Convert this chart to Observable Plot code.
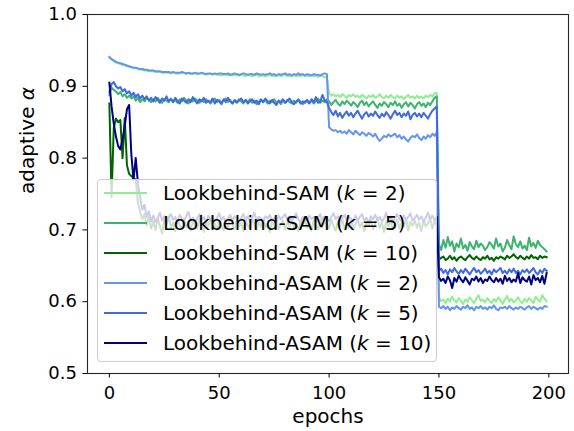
<!DOCTYPE html>
<html><head><meta charset="utf-8">
<script src="https://cdn.jsdelivr.net/npm/d3@7"></script>
<script src="https://cdn.jsdelivr.net/npm/@observablehq/plot@0.6"></script>
<style>
body{margin:0;background:#fff}
#wrap{position:relative;width:574px;height:431px;font-family:"DejaVu Sans",sans-serif}
#legend{position:absolute;left:97px;top:179px;width:338px;height:181px;border:1px solid #cccccc;border-radius:4px;background:rgba(255,255,255,0.8)}
#rows{margin-top:-2px}
.row{height:30px;display:flex;align-items:center;font-size:20px;color:#000;white-space:nowrap}
.row svg{margin-left:6px;margin-right:16px;flex:none}
</style>
</head><body>
<div id="wrap"><div id="chart"></div><div id="legend"><div id="rows"></div></div></div>
<script>
const seriesNames = ["Lookbehind-SAM|2","Lookbehind-SAM|5","Lookbehind-SAM|10","Lookbehind-ASAM|2","Lookbehind-ASAM|5","Lookbehind-ASAM|10"];
const seriesColors = ["#90EE90","#3CB371","#006400","#6495ED","#4169E1","#000080"];
const xTicks = [0,50,100,150,200];
const yTicks = [0.5,0.6,0.7,0.8,0.9,1.0];

const samK2 = [
0.940,0.937,0.935,0.933,0.932,0.931,0.930,0.929,0.928,0.927,
0.926,0.925,0.925,0.924,0.923,0.923,0.922,0.922,0.921,0.921,
0.921,0.920,0.920,0.920,0.919,0.919,0.919,0.919,0.918,0.919,
0.918,0.918,0.918,0.919,0.918,0.917,0.918,0.917,0.917,0.918,
0.917,0.917,0.918,0.917,0.916,0.917,0.917,0.916,0.917,0.916,
0.916,0.915,0.916,0.916,0.915,0.916,0.915,0.916,0.915,0.915,
0.916,0.915,0.914,0.916,0.915,0.914,0.915,0.916,0.914,0.915,
0.915,0.914,0.915,0.916,0.914,0.915,0.914,0.916,0.914,0.915,
0.916,0.914,0.915,0.914,0.916,0.914,0.915,0.914,0.916,0.914,
0.915,0.914,0.916,0.914,0.915,0.913,0.915,0.914,0.913,0.912,
0.890,0.887,0.889,0.886,0.888,0.885,0.889,0.887,0.884,0.888,
0.886,0.889,0.885,0.887,0.884,0.888,0.886,0.883,0.887,0.885,
0.888,0.884,0.886,0.889,0.885,0.883,0.887,0.884,0.888,0.885,
0.883,0.887,0.884,0.886,0.882,0.885,0.888,0.884,0.886,0.883,
0.887,0.884,0.886,0.883,0.887,0.885,0.888,0.886,0.890,0.891,
0.606,0.601,0.603,0.598,0.604,0.600,0.607,0.602,0.599,0.605,
0.601,0.597,0.603,0.600,0.606,0.602,0.598,0.604,0.609,0.601,
0.603,0.599,0.605,0.601,0.598,0.604,0.600,0.606,0.602,0.597,
0.603,0.608,0.600,0.604,0.599,0.602,0.606,0.601,0.598,0.604,
0.600,0.605,0.602,0.598,0.607,0.603,0.600,0.609,0.604,0.601];

const samK5 = [
0.888,0.898,0.895,0.893,0.889,0.892,0.886,0.889,0.884,0.887,
0.883,0.886,0.880,0.884,0.878,0.882,0.879,0.884,0.881,0.878,
0.882,0.879,0.884,0.880,0.877,0.882,0.880,0.878,0.883,0.879,
0.881,0.877,0.882,0.879,0.884,0.880,0.876,0.881,0.879,0.883,
0.880,0.877,0.881,0.878,0.882,0.879,0.876,0.880,0.883,0.878,
0.881,0.877,0.880,0.883,0.878,0.881,0.876,0.880,0.878,0.882,
0.879,0.876,0.881,0.878,0.882,0.877,0.880,0.875,0.879,0.882,
0.878,0.881,0.876,0.880,0.878,0.882,0.877,0.879,0.875,0.880,
0.877,0.881,0.878,0.876,0.880,0.877,0.882,0.878,0.875,0.879,
0.881,0.877,0.880,0.876,0.879,0.883,0.877,0.880,0.878,0.882,
0.879,0.874,0.878,0.881,0.876,0.873,0.879,0.875,0.880,0.877,
0.873,0.878,0.875,0.871,0.877,0.880,0.874,0.878,0.872,0.876,
0.879,0.874,0.870,0.876,0.873,0.878,0.875,0.871,0.877,0.874,
0.879,0.873,0.876,0.870,0.875,0.878,0.872,0.877,0.874,0.869,
0.875,0.878,0.873,0.876,0.871,0.877,0.874,0.879,0.884,0.886,
0.680,0.672,0.686,0.675,0.690,0.678,0.684,0.670,0.681,0.676,
0.688,0.674,0.679,0.671,0.683,0.677,0.673,0.685,0.676,0.681,
0.678,0.672,0.676,0.683,0.679,0.674,0.688,0.677,0.681,0.670,
0.675,0.686,0.679,0.673,0.691,0.680,0.676,0.684,0.674,0.678,
0.672,0.689,0.677,0.682,0.675,0.685,0.679,0.676,0.673,0.670];

const samK10 = [
0.876,0.745,0.842,0.855,0.850,0.853,0.800,0.856,0.790,0.778,
0.775,0.772,0.770,0.738,0.725,0.715,0.722,0.706,0.718,0.702,
0.712,0.700,0.716,0.705,0.695,0.713,0.708,0.719,0.703,0.710,
0.698,0.714,0.707,0.701,0.716,0.704,0.711,0.699,0.713,0.706,
0.702,0.715,0.708,0.697,0.711,0.705,0.716,0.703,0.709,0.700,
0.713,0.706,0.699,0.712,0.704,0.717,0.708,0.701,0.714,0.705,
0.710,0.698,0.713,0.706,0.702,0.715,0.707,0.700,0.712,0.704,
0.716,0.703,0.709,0.697,0.711,0.706,0.714,0.701,0.708,0.713,
0.700,0.711,0.705,0.716,0.702,0.709,0.698,0.712,0.706,0.714,
0.703,0.710,0.699,0.713,0.707,0.701,0.715,0.704,0.711,0.708,
0.702,0.714,0.706,0.699,0.712,0.705,0.716,0.701,0.709,0.703,
0.713,0.700,0.708,0.715,0.704,0.710,0.698,0.711,0.706,0.714,
0.701,0.709,0.716,0.703,0.710,0.697,0.712,0.705,0.713,0.700,
0.708,0.715,0.702,0.710,0.704,0.716,0.699,0.711,0.706,0.713,
0.703,0.710,0.698,0.714,0.705,0.709,0.716,0.702,0.712,0.707,
0.659,0.661,0.663,0.658,0.660,0.664,0.659,0.662,0.657,0.661,
0.663,0.660,0.658,0.662,0.665,0.661,0.659,0.663,0.660,0.658,
0.662,0.660,0.664,0.659,0.661,0.657,0.662,0.660,0.663,0.661,
0.659,0.664,0.661,0.663,0.666,0.662,0.660,0.664,0.661,0.659,
0.663,0.660,0.665,0.661,0.662,0.659,0.664,0.661,0.663,0.662];

const asamK2 = [
0.941,0.938,0.936,0.934,0.933,0.932,0.931,0.930,0.929,0.928,
0.927,0.926,0.926,0.925,0.924,0.924,0.923,0.923,0.922,0.922,
0.922,0.921,0.921,0.921,0.920,0.920,0.920,0.920,0.919,0.920,
0.919,0.919,0.919,0.920,0.919,0.918,0.919,0.918,0.918,0.919,
0.918,0.918,0.919,0.918,0.917,0.918,0.918,0.917,0.918,0.917,
0.918,0.918,0.917,0.917,0.918,0.916,0.917,0.918,0.917,0.916,
0.917,0.918,0.917,0.916,0.917,0.917,0.916,0.918,0.917,0.916,
0.917,0.916,0.917,0.918,0.916,0.917,0.915,0.917,0.916,0.917,
0.918,0.916,0.917,0.915,0.917,0.916,0.918,0.916,0.917,0.915,
0.917,0.916,0.915,0.917,0.916,0.916,0.915,0.917,0.918,0.917,
0.843,0.840,0.838,0.839,0.836,0.838,0.835,0.837,0.834,0.839,
0.836,0.833,0.838,0.835,0.832,0.836,0.834,0.831,0.835,0.833,
0.830,0.834,0.828,0.824,0.827,0.831,0.829,0.833,0.830,0.832,
0.834,0.829,0.832,0.827,0.830,0.826,0.823,0.828,0.831,0.829,
0.833,0.828,0.825,0.830,0.827,0.832,0.829,0.834,0.831,0.836,
0.593,0.591,0.594,0.590,0.593,0.588,0.592,0.590,0.594,0.591,
0.589,0.593,0.591,0.595,0.590,0.592,0.588,0.593,0.591,0.594,
0.590,0.592,0.589,0.593,0.591,0.595,0.590,0.588,0.592,0.591,
0.593,0.590,0.594,0.591,0.589,0.592,0.590,0.593,0.591,0.589,
0.592,0.594,0.590,0.593,0.591,0.589,0.592,0.590,0.594,0.593];

const asamK5 = [
0.892,0.903,0.906,0.900,0.897,0.899,0.893,0.896,0.890,0.893,
0.887,0.891,0.885,0.889,0.883,0.887,0.882,0.886,0.880,0.884,
0.879,0.885,0.881,0.877,0.883,0.880,0.886,0.879,0.882,0.878,
0.884,0.879,0.876,0.883,0.880,0.877,0.882,0.878,0.885,0.880,
0.876,0.882,0.879,0.884,0.877,0.880,0.878,0.883,0.876,0.881,
0.879,0.875,0.882,0.878,0.884,0.879,0.876,0.881,0.877,0.880,
0.883,0.878,0.881,0.876,0.879,0.882,0.877,0.880,0.875,0.881,
0.878,0.883,0.879,0.876,0.881,0.877,0.874,0.880,0.878,0.882,
0.877,0.880,0.883,0.878,0.875,0.879,0.881,0.876,0.879,0.877,
0.880,0.876,0.882,0.878,0.885,0.877,0.879,0.888,0.880,0.878,
0.870,0.864,0.860,0.866,0.858,0.863,0.856,0.861,0.865,0.859,
0.863,0.857,0.862,0.866,0.860,0.855,0.861,0.864,0.858,0.862,
0.859,0.865,0.860,0.856,0.862,0.858,0.864,0.860,0.855,0.861,
0.866,0.860,0.863,0.857,0.862,0.859,0.865,0.854,0.860,0.863,
0.858,0.862,0.857,0.863,0.859,0.855,0.861,0.866,0.869,0.872,
0.643,0.646,0.640,0.644,0.638,0.645,0.641,0.647,0.642,0.639,
0.644,0.640,0.646,0.642,0.638,0.643,0.647,0.641,0.644,0.639,
0.642,0.646,0.640,0.643,0.638,0.645,0.641,0.644,0.647,0.640,
0.643,0.639,0.645,0.641,0.646,0.640,0.643,0.638,0.644,0.641,
0.645,0.640,0.643,0.647,0.641,0.638,0.644,0.640,0.646,0.643];

const asamK10 = [
0.905,0.872,0.848,0.830,0.817,0.812,0.826,0.845,0.868,0.874,
0.805,0.770,0.800,0.765,0.745,0.728,0.735,0.718,0.726,0.712,
0.720,0.711,0.716,0.724,0.713,0.719,0.709,0.717,0.722,0.714,
0.718,0.710,0.721,0.715,0.712,0.719,0.725,0.713,0.717,0.711,
0.716,0.722,0.713,0.718,0.710,0.720,0.714,0.719,0.712,0.717,
0.723,0.714,0.718,0.711,0.716,0.721,0.713,0.719,0.715,0.710,
0.717,0.722,0.714,0.719,0.712,0.716,0.724,0.713,0.718,0.715,
0.711,0.719,0.716,0.721,0.713,0.717,0.710,0.720,0.715,0.718,
0.722,0.714,0.719,0.712,0.717,0.723,0.715,0.711,0.718,0.716,
0.713,0.720,0.715,0.718,0.711,0.717,0.722,0.714,0.719,0.716,
0.712,0.718,0.723,0.715,0.719,0.713,0.717,0.721,0.714,0.718,
0.716,0.711,0.720,0.714,0.718,0.722,0.713,0.717,0.710,0.719,
0.715,0.721,0.713,0.718,0.712,0.716,0.724,0.714,0.719,0.711,
0.717,0.722,0.715,0.712,0.720,0.714,0.718,0.723,0.713,0.716,
0.721,0.714,0.719,0.712,0.717,0.724,0.715,0.720,0.713,0.718,
0.634,0.629,0.632,0.626,0.635,0.630,0.619,0.633,0.628,0.636,
0.631,0.627,0.634,0.629,0.624,0.632,0.630,0.635,0.628,0.633,
0.626,0.631,0.629,0.635,0.630,0.627,0.633,0.628,0.632,0.625,
0.636,0.629,0.633,0.627,0.631,0.628,0.640,0.626,0.634,0.630,
0.628,0.635,0.624,0.637,0.630,0.633,0.627,0.636,0.625,0.640];

const seriesValues = [samK2, samK5, samK10, asamK2, asamK5, asamK10];

const lineMarks = seriesValues.map((vals, s) =>
  Plot.line(vals.map((v, i) => ({epoch: i, value: v})), {
    x: "epoch", y: "value", stroke: seriesColors[s], strokeWidth: 2,
    strokeLinejoin: "round", strokeLinecap: "square"
  })
);

const chart = Plot.plot({
  width: 574, height: 431,
  marginLeft: 87, marginRight: 6, marginTop: 14, marginBottom: 58,
  style: {fontFamily: "DejaVu Sans", fontSize: "18px", color: "black", background: "white"},
  x: {domain: [-9.95, 208.95]},
  y: {domain: [0.5, 1.0]},
  marks: [
    ...lineMarks,
    Plot.frame({stroke: "#262626", strokeWidth: 1.1}),
    Plot.axisX({ticks: xTicks, tickSize: 4.5, tickPadding: 8, fontSize: 18, label: null, tickFormat: d3.format("d")}),
    Plot.axisY({ticks: yTicks, tickSize: 4.5, tickPadding: 6, fontSize: 18, label: null, tickFormat: d3.format(".1f")}),
    Plot.text(["epochs"], {text: d => d, frameAnchor: "bottom", dy: 49, fontSize: 20}),
    Plot.text(["adaptive α"], {text: d => d, frameAnchor: "left", rotate: -90, dx: -59.5, fontSize: 20})
  ]
});
document.getElementById("chart").appendChild(chart);

// italic alpha in y label
d3.select(chart).selectAll("text").each(function() {
  if (this.textContent === "adaptive α") {
    const t = d3.select(this);
    t.text("adaptive ");
    t.append("tspan").attr("font-style", "italic").text("α");
  }
});

// legend
const rows = d3.select("#rows");
seriesNames.forEach((name, s) => {
  const [base, k] = name.split("|");
  const row = rows.append("div").attr("class", "row");
  const sv = row.append("svg").attr("width", 43).attr("height", 4);
  sv.append("line").attr("x1", 0).attr("x2", 43).attr("y1", 2).attr("y2", 2)
    .attr("stroke", seriesColors[s]).attr("stroke-width", 2);
  const sp = row.append("span");
  sp.append("span").text(base + " (");
  sp.append("i").text("k");
  sp.append("span").text(" = " + k + ")");
});
</script>
</body></html>
